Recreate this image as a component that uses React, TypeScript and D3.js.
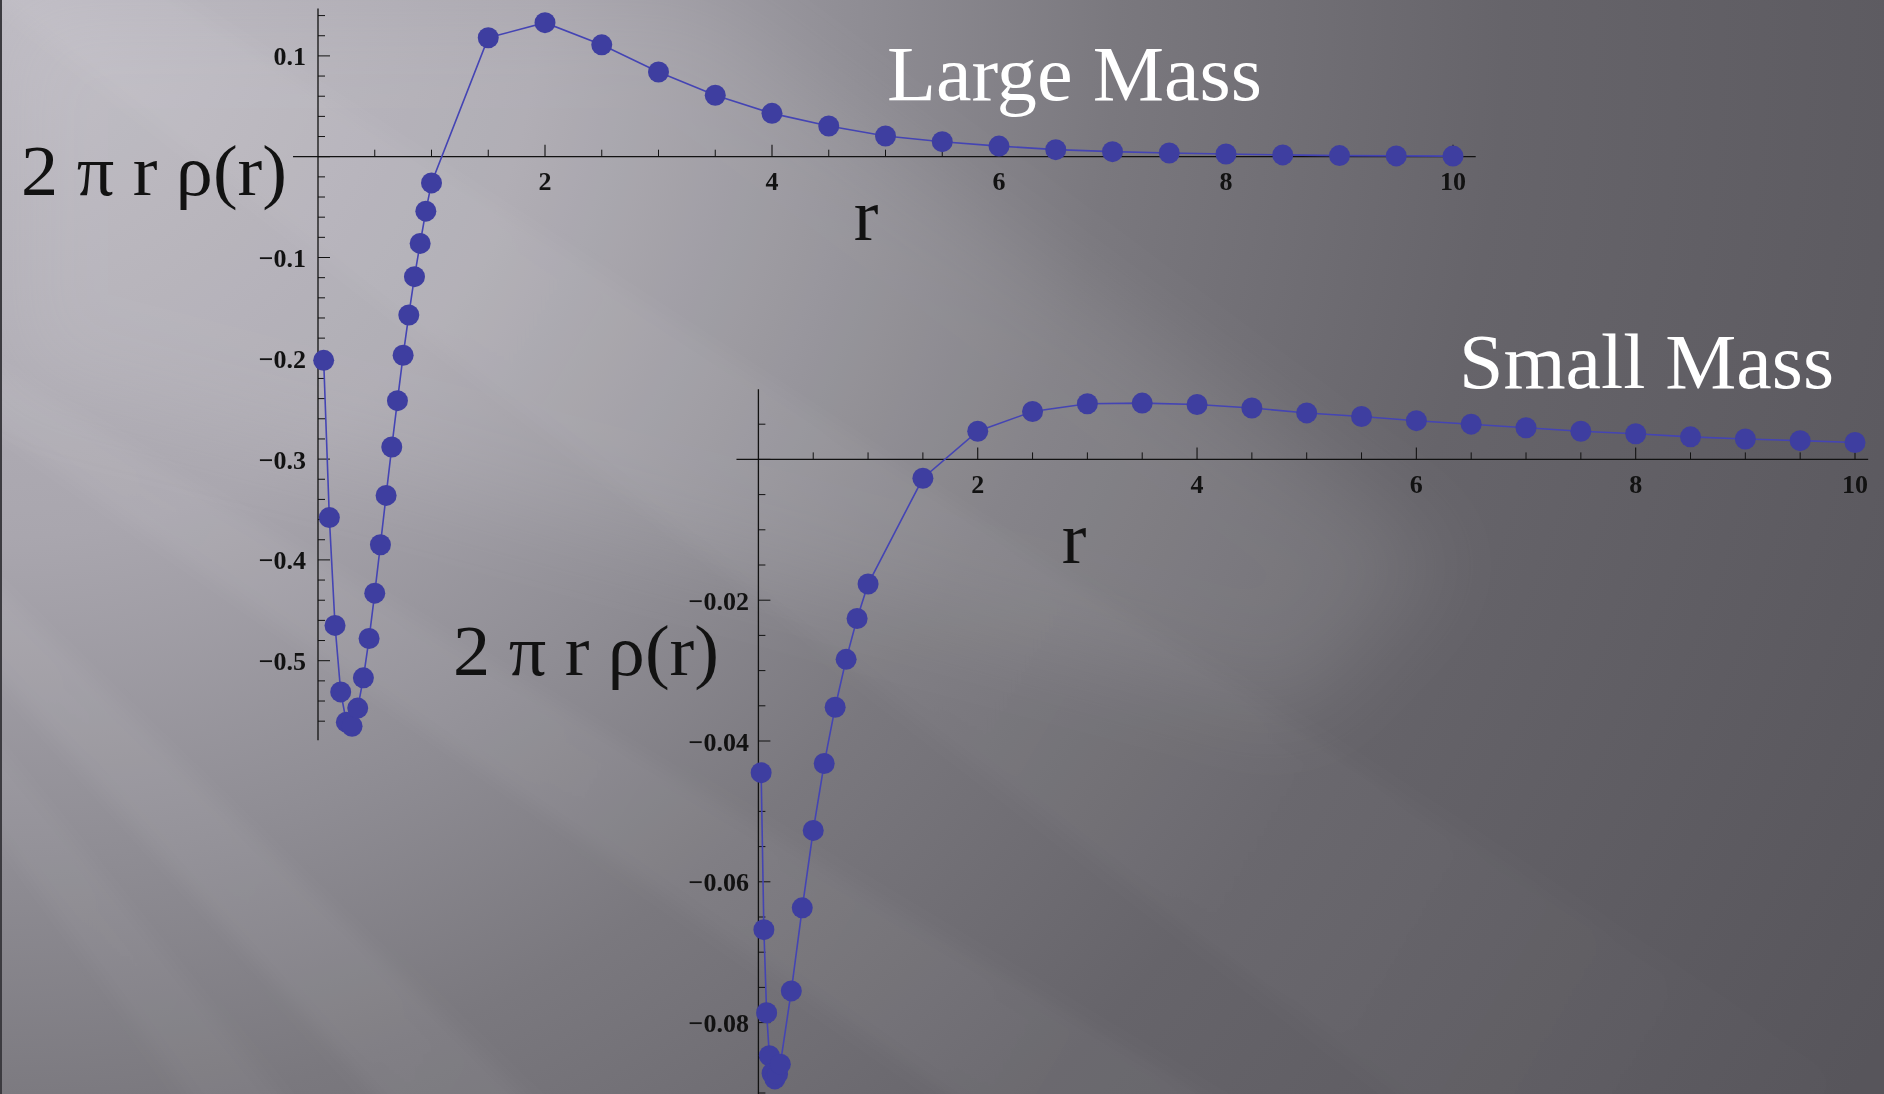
import React from "react";
import * as d3 from "d3";

// Radial samples of 2πr·ρ(r) for the two mass cases
const largeR = [0.05, 0.1, 0.15, 0.2, 0.25, 0.3, 0.35, 0.4, 0.45, 0.5, 0.55, 0.6, 0.65, 0.7, 0.75, 0.8, 0.85, 0.9, 0.95, 1.0,
  1.5, 2, 2.5, 3, 3.5, 4, 4.5, 5, 5.5, 6, 6.5, 7, 7.5, 8, 8.5, 9, 9.5, 10];
const largeRho = [-0.202, -0.358, -0.465, -0.531, -0.561, -0.565, -0.547, -0.517, -0.478, -0.433, -0.385, -0.336, -0.288,
  -0.242, -0.197, -0.157, -0.119, -0.086, -0.054, -0.026,
  0.118, 0.133, 0.111, 0.084, 0.061, 0.043, 0.0305, 0.0205, 0.0149, 0.0105, 0.007, 0.005, 0.0037, 0.0027, 0.0018, 0.0011, 0.0008, 0.0006];

const smallR = [0.025, 0.05, 0.075, 0.1, 0.125, 0.15, 0.175, 0.2, 0.3, 0.4, 0.5, 0.6, 0.7, 0.8, 0.9, 1.0,
  1.5, 2, 2.5, 3, 3.5, 4, 4.5, 5, 5.5, 6, 6.5, 7, 7.5, 8, 8.5, 9, 9.5, 10];
const smallRho = [-0.0445, -0.0668, -0.0786, -0.0847, -0.0872, -0.088, -0.0873, -0.0859, -0.0755, -0.0637, -0.0527,
  -0.0432, -0.0352, -0.0284, -0.0226, -0.0177,
  -0.00268, 0.004, 0.0068, 0.0079, 0.008, 0.0078, 0.0073, 0.0066, 0.0061, 0.0055, 0.005, 0.0045, 0.004, 0.00365,
  0.0032, 0.0029, 0.00266, 0.0024];

const xMajorTicks = [2, 4, 6, 8, 10];
const largeYTicks = [-0.5, -0.4, -0.3, -0.2, -0.1, 0.1];
const smallYTicks = [-0.08, -0.06, -0.04, -0.02];

const W = 1884;
const H = 1094;
const SERIF = "'Liberation Serif', 'Times New Roman', serif";
const DOT = "#3e3ea0";
const LINE = "#4444b4";
const INK = "#121212";

const fmt = (v: number) => (v < 0 ? "\u2212" + String(Math.abs(v)) : String(v));

type PanelProps = {
  r: number[];
  rho: number[];
  x: d3.ScaleLinear<number, number>;
  y: d3.ScaleLinear<number, number>;
  xExtent: [number, number];
  yExtent: [number, number];
  yMajor: number[];
  yMinorStep: number;
  labelGap: number;
};

function Panel({ r, rho, x, y, xExtent, yExtent, yMajor, yMinorStep, labelGap }: PanelProps) {
  const x0 = x(0);
  const y0 = y(0);
  const pts = r.map((v, i) => [v, rho[i]] as [number, number]);
  const line = d3.line<[number, number]>().x((d) => x(d[0])).y((d) => y(d[1]));
  const xMinor = d3.range(0.5, 10.01, 0.5).filter((t) => Math.abs(t / 2 - Math.round(t / 2)) > 1e-6);
  const yLo = Math.ceil(yExtent[0] / yMinorStep - 1e-6);
  const yHi = Math.floor(yExtent[1] / yMinorStep + 1e-6);
  const yMinor = d3.range(yLo, yHi + 1).map((k) => k * yMinorStep);
  const isMajor = (v: number) => yMajor.some((m) => Math.abs(m - v) < 1e-9) || Math.abs(v) < 1e-9;
  return (
    <g>
      {/* axes */}
      <line x1={x(xExtent[0])} x2={x(xExtent[1])} y1={y0} y2={y0} stroke={INK} strokeWidth={1.3} />
      <line x1={x0} x2={x0} y1={y(yExtent[0])} y2={y(yExtent[1])} stroke={INK} strokeWidth={1.3} />
      {/* x ticks */}
      {xMinor.map((t) => (
        <line key={"xm" + t} x1={x(t)} x2={x(t)} y1={y0} y2={y0 - 7} stroke={INK} strokeWidth={1} />
      ))}
      {xMajorTicks.map((t) => (
        <g key={"xM" + t}>
          <line x1={x(t)} x2={x(t)} y1={y0} y2={y0 - 12} stroke={INK} strokeWidth={1.1} />
          <text x={x(t)} y={y0 + 33.5} textAnchor="middle" fontFamily={SERIF} fontWeight="bold" fontSize={26} fill={INK}>
            {fmt(t)}
          </text>
        </g>
      ))}
      {/* y ticks */}
      {yMinor.map((t) => (
        <line key={"ym" + t} x1={x0} x2={x0 + (isMajor(t) ? 12 : 7)} y1={y(t)} y2={y(t)} stroke={INK} strokeWidth={1} />
      ))}
      {yMajor.map((t) => (
        <text key={"yl" + t} x={x0 - labelGap} y={y(t) + 9.5} textAnchor="end" fontFamily={SERIF} fontWeight="bold" fontSize={26} fill={INK}>
          {fmt(t)}
        </text>
      ))}
      {/* data */}
      <path d={line(pts) || ""} fill="none" stroke={LINE} strokeWidth={1.6} />
      {pts.map((d, i) => (
        <circle key={"p" + i} cx={x(d[0])} cy={y(d[1])} r={10.5} fill={DOT} />
      ))}
    </g>
  );
}

function wedge(sx: number, sy: number, a1: number, a2: number, L = 6000) {
  const rad = Math.PI / 180;
  return `M${sx},${sy} L${sx + L * Math.cos(a1 * rad)},${sy + L * Math.sin(a1 * rad)} L${sx + L * Math.cos(a2 * rad)},${sy + L * Math.sin(a2 * rad)} Z`;
}

export default function App() {
  const xL = d3.scaleLinear().domain([0, 10]).range([318, 1453]);
  const yL = d3.scaleLinear().domain([0, 0.1]).range([156.7, 55.9]);
  const xS = d3.scaleLinear().domain([0, 10]).range([758.4, 1855]);
  const yS = d3.scaleLinear().domain([0, -0.02]).range([459.4, 600.2]);

  return (
    <svg width={W} height={H} viewBox={`0 0 ${W} ${H}`} style={{ position: "fixed", left: 0, top: 0, display: "block" }}>
      <defs>
        <radialGradient id="bgGrad" cx={0} cy={0} r={2150} gradientUnits="userSpaceOnUse">
          <stop offset="0" stopColor="#bcb9c1" />
          <stop offset="0.25" stopColor="#a9a6ae" />
          <stop offset="0.4" stopColor="#8f8d94" />
          <stop offset="0.52" stopColor="#7a787e" />
          <stop offset="0.7" stopColor="#66646a" />
          <stop offset="1" stopColor="#57555b" />
        </radialGradient>
        <linearGradient id="rayFade" x1={0} y1={0} x2={1884} y2={1094} gradientUnits="userSpaceOnUse">
          <stop offset="0" stopColor="#ffffff" stopOpacity={1} />
          <stop offset="0.7" stopColor="#ffffff" stopOpacity={0.6} />
          <stop offset="1" stopColor="#ffffff" stopOpacity={0} />
        </linearGradient>
        <filter id="softBand" x="-20%" y="-20%" width="140%" height="140%">
          <feGaussianBlur stdDeviation="9" />
        </filter>
        <filter id="wideBand" x="-20%" y="-20%" width="140%" height="140%">
          <feGaussianBlur stdDeviation="45" />
        </filter>
      </defs>

      {/* backdrop */}
      <rect x={0} y={0} width={W} height={H} fill="url(#bgGrad)" />
      <path d="M0,0 L700,0 L1450,560 L1300,720 L0,380 Z" fill="#ffffff" opacity={0.09} filter="url(#wideBand)" />
      <g fill="url(#rayFade)" filter="url(#softBand)">
        <path d={wedge(-600, 10, 31, 35)} opacity={0.06} />
        <path d={wedge(-600, 10, 44, 48)} opacity={0.065} />
        <path d={wedge(-600, 10, 51, 54)} opacity={0.045} />
        <path d={wedge(-900, -700, 33, 38)} opacity={0.05} />
      </g>
      <rect x={0} y={0} width={2} height={H} fill="#3c3b40" />

      {/* Large Mass */}
      <Panel r={largeR} rho={largeRho} x={xL} y={yL} xExtent={[-0.22, 10.2]} yExtent={[-0.579, 0.147]}
        yMajor={largeYTicks} yMinorStep={0.02} labelGap={12} />
      <text x={887} y={100} fontFamily={SERIF} fontSize={78} fill="#ffffff" textLength={375} lengthAdjust="spacingAndGlyphs">Large Mass</text>
      <text x={21} y={195} fontFamily={SERIF} fontSize={71} fill={INK} textLength={266} lengthAdjust="spacingAndGlyphs">2 π r ρ(r)</text>
      <text x={866} y={240} textAnchor="middle" fontFamily={SERIF} fontSize={74} fill={INK}>r</text>

      {/* Small Mass */}
      <Panel r={smallR} rho={smallRho} x={xS} y={yS} xExtent={[-0.2, 10.12]} yExtent={[-0.0905, 0.00995]}
        yMajor={smallYTicks} yMinorStep={0.005} labelGap={9.5} />
      <text x={1459} y={388} fontFamily={SERIF} fontSize={78} fill="#ffffff" textLength={375} lengthAdjust="spacingAndGlyphs">Small Mass</text>
      <text x={453} y={675} fontFamily={SERIF} fontSize={71} fill={INK} textLength={266} lengthAdjust="spacingAndGlyphs">2 π r ρ(r)</text>
      <text x={1074} y={562.7} textAnchor="middle" fontFamily={SERIF} fontSize={74} fill={INK}>r</text>
    </svg>
  );
}
